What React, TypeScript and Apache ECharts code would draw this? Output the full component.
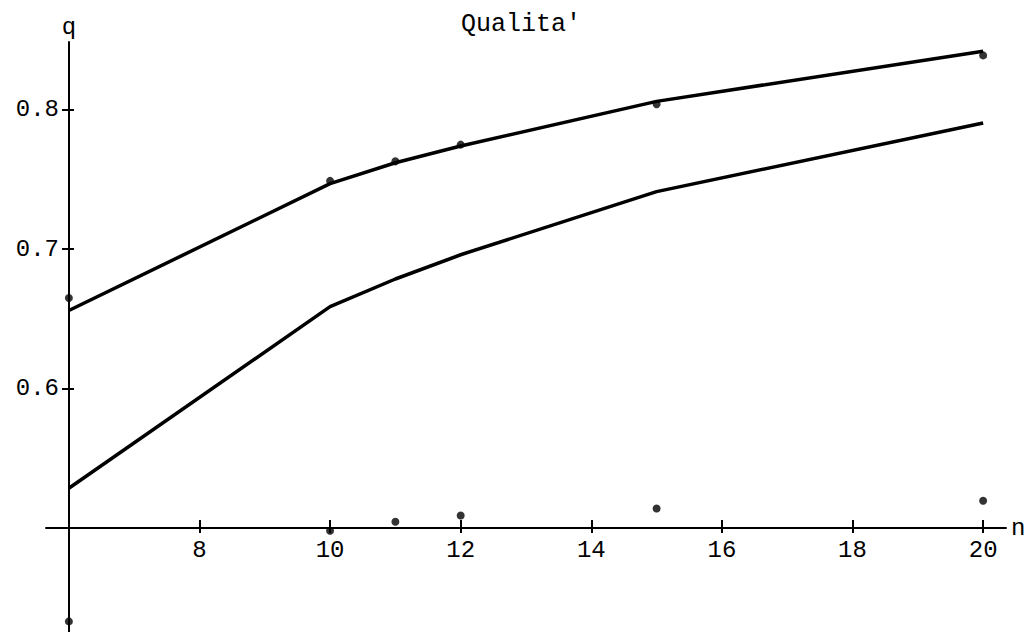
import { useEffect, useRef } from "react";
import * as echarts from "echarts";

const xValues = [6, 10, 11, 12, 15, 20];
const upperFit = [0.656, 0.747, 0.762, 0.774, 0.806, 0.842];
const lowerFit = [0.5285, 0.6588, 0.6786, 0.696, 0.7413, 0.7905];
const upperObs = [0.665, 0.749, 0.763, 0.775, 0.804, 0.839];
const lowerObs = [0.433, 0.498, 0.5045, 0.509, 0.514, 0.5196];
const xTicks = [8, 10, 12, 14, 16, 18, 20];
const yTicks = [0.6, 0.7, 0.8];
const titleText = "Qualita'";
const xName = "n";
const yName = "q";

const FONT = "'Liberation Mono', 'Courier New', monospace";

export default function App() {
  const ref = useRef<HTMLDivElement>(null);
  useEffect(() => {
    const chart = echarts.init(ref.current!, null, { renderer: "svg" });
    const ls = { color: "#000", width: 2 };
    const xMin = 5.65, xMax = 20.35, yMin = 0.4254, yMax = 0.8486;
    const pair = (a: number[], b: number[]) => a.map((x, i) => [x, b[i]]);
    chart.setOption({
      animation: false,
      backgroundColor: "#fff",
      graphic: [
        {
          type: "text",
          x: 521,
          y: 12,
          style: { text: titleText, align: "center", verticalAlign: "top", font: `25px ${FONT}`, fill: "#000" },
        },
      ],
      grid: { left: 46, top: 42, width: 960, height: 590, outerBoundsMode: "none", containLabel: false },
      xAxis: [
        {
          type: "value", min: xMin, max: xMax, position: "bottom", offset: -104,
          axisLine: { onZero: false, lineStyle: ls },
          axisTick: { customValues: xTicks, length: 5, lineStyle: ls },
          axisLabel: { customValues: xTicks, margin: 10, color: "#000", fontFamily: FONT, fontSize: 24, formatter: (v: number) => String(v) },
          splitLine: { show: false },
          name: xName, nameLocation: "end", nameGap: 5,
          nameTextStyle: { color: "#000", fontFamily: FONT, fontSize: 24, verticalAlign: "middle" },
        },
        {
          type: "value", min: xMin, max: xMax, position: "bottom", offset: -104,
          axisLine: { show: false, onZero: false },
          axisTick: { customValues: xTicks, inside: true, length: 8, lineStyle: ls },
          axisLabel: { show: false },
          splitLine: { show: false },
        },
      ],
      yAxis: [
        {
          type: "value", min: yMin, max: yMax, position: "left", offset: -23,
          axisLine: { onZero: false, lineStyle: ls },
          axisTick: { customValues: yTicks, length: 7, lineStyle: ls },
          axisLabel: { customValues: yTicks, margin: 10, color: "#000", fontFamily: FONT, fontSize: 24, formatter: (v: number) => v.toFixed(1) },
          splitLine: { show: false },
          name: yName, nameLocation: "end", nameGap: 3,
          nameTextStyle: { color: "#000", fontFamily: FONT, fontSize: 24, align: "center" },
        },
        {
          type: "value", min: yMin, max: yMax, position: "left", offset: -23,
          axisLine: { show: false, onZero: false },
          axisTick: { customValues: yTicks, inside: true, length: 5, lineStyle: ls },
          axisLabel: { show: false },
          splitLine: { show: false },
        },
      ],
      series: [
        { type: "line", data: pair(xValues, upperFit), showSymbol: false, lineStyle: { color: "#000", width: 3.5 }, xAxisIndex: 0, yAxisIndex: 0 },
        { type: "line", data: pair(xValues, lowerFit), showSymbol: false, lineStyle: { color: "#000", width: 3.5 }, xAxisIndex: 0, yAxisIndex: 0 },
        { type: "scatter", data: pair(xValues, upperObs), symbolSize: 8, itemStyle: { color: "#000" }, xAxisIndex: 0, yAxisIndex: 0 },
        { type: "scatter", data: pair(xValues, lowerObs), symbolSize: 8, itemStyle: { color: "#000" }, xAxisIndex: 0, yAxisIndex: 0 },
      ],
    });
    return () => chart.dispose();
  }, []);
  return <div ref={ref} style={{ position: "absolute", left: 0, top: 0, width: 1024, height: 632 }} />;
}
